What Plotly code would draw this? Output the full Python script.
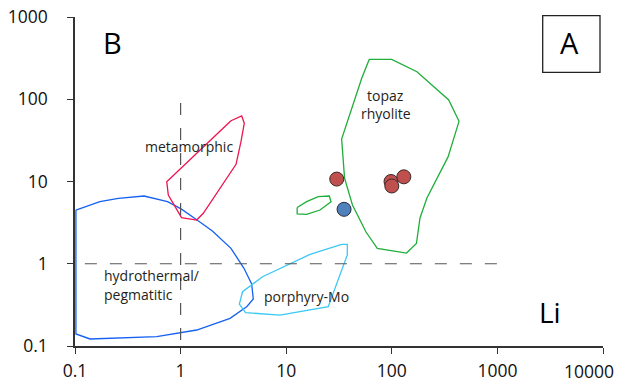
import numpy as np
import plotly.graph_objects as go

# ---- field outlines (x = Li, y = second element) ----
hydro_x = [0.102, 0.172, 0.257, 0.450, 0.752, 1.02, 1.42, 2.00, 3.00, 3.98, 4.71, 4.88, 4.25, 2.94, 1.42, 0.594, 0.139, 0.102]
hydro_y = [4.50, 5.68, 6.25, 6.66, 5.68, 4.61, 3.43, 2.50, 1.54, 0.880, 0.567, 0.373, 0.302, 0.217, 0.1565, 0.1297, 0.1217, 0.140]

meta_x = [3.00, 3.79, 4.01, 3.73, 3.35, 2.04, 1.64, 1.42, 1.02, 0.765, 0.739]
meta_y = [54.8, 62.6, 51.0, 30.5, 16.2, 6.25, 4.11, 3.40, 3.63, 6.85, 9.95]

porph_x = [33.5, 37.9, 37.9, 25.0, 8.74, 4.12, 3.60, 3.86, 5.97, 16.8]
porph_y = [1.72, 1.72, 1.28, 0.300, 0.238, 0.254, 0.324, 0.457, 0.696, 1.30]

topaz_small_x = [12.7, 12.7, 15.6, 20.9, 26.6, 25.6, 20.1, 15.6]
topaz_small_y = [4.83, 4.05, 3.99, 4.50, 5.68, 6.66, 6.53, 5.68]

topaz_x = [61.2, 99.8, 173, 346, 433, 341, 215, 185, 171, 138, 72.9, 57.0, 42.4, 35.7, 33.5, 51.9]
topaz_y = [306, 306, 216, 97.9, 53.9, 19.9, 6.30, 3.60, 1.76, 1.35, 1.54, 2.43, 5.18, 11.0, 32.9, 180]

# ---- samples ----
red_x = [30.1, 98.3, 130, 100]
red_y = [10.7, 10.0, 11.4, 8.82]
blue_x = [35.3]
blue_y = [4.59]

# ---- reference lines ----
vline_x = [1, 1]
vline_y = [0.118, 112]
hline_x = [0.124, 1000]
hline_y = [1, 1]

tick_vals_x = [0.1, 1, 10, 100, 1000, 10000]
tick_text_x = ["0.1", "1", "10", "100", "1000", "10000"]
tick_vals_y = [0.1, 1, 10, 100, 1000]
tick_text_y = ["0.1", "1", "10", "100", "1000"]

FONT = "Open Sans"
TXT = "#231f20"
TICK_SIZE = 17.5

fig = go.Figure()

def closed(xs, ys):
    return list(xs) + [xs[0]], list(ys) + [ys[0]]

for xs, ys, col in [
    (hydro_x, hydro_y, "#1561f2"),
    (meta_x, meta_y, "#ee1450"),
    (porph_x, porph_y, "#3cc8f5"),
    (topaz_small_x, topaz_small_y, "#1fae3a"),
    (topaz_x, topaz_y, "#1fae3a"),
]:
    cx, cy = closed(xs, ys)
    fig.add_trace(go.Scatter(x=cx, y=cy, mode="lines",
                             line=dict(color=col, width=1.3),
                             hoverinfo="skip", showlegend=False))

for xs, ys in [(vline_x, vline_y), (hline_x, hline_y)]:
    fig.add_trace(go.Scatter(x=xs, y=ys, mode="lines",
                             line=dict(color="#555555", width=1.2, dash="12px,13px"),
                             hoverinfo="skip", showlegend=False))

fig.add_trace(go.Scatter(x=red_x, y=red_y, mode="markers",
                         marker=dict(size=14, color="#c0504d", line=dict(color="#3a2a2a", width=1)),
                         showlegend=False))
fig.add_trace(go.Scatter(x=blue_x, y=blue_y, mode="markers",
                         marker=dict(size=14, color="#4f81bd", line=dict(color="#2a2a3a", width=1)),
                         showlegend=False))

def ann_data(x, y, text, size=14, xanchor="center"):
    fig.add_annotation(x=np.log10(x), y=np.log10(y), xref="x", yref="y", text=text,
                       showarrow=False, xanchor=xanchor, yanchor="middle",
                       font=dict(family=FONT, size=size, color=TXT))

ann_data(1.20, 27.0, "metamorphic")
ann_data(88.1, 112.6, "topaz")
ann_data(88.1, 66.2, "rhyolite")
ann_data(0.180, 0.716, "hydrothermal/", xanchor="left")
ann_data(0.180, 0.425, "pegmatitic", xanchor="left")
ann_data(5.94, 0.397, "porphyry-Mo", xanchor="left")

def ann_paper(px, py, text, size, color="#000000", xanchor="center"):
    fig.add_annotation(x=(px - 75) / 528, y=(346 - py) / 329, xref="paper", yref="paper",
                       text=text, showarrow=False, xanchor=xanchor, yanchor="middle",
                       font=dict(family=FONT, size=size, color=color))

ann_paper(112, 42.5, "B", 29)
ann_paper(569.3, 43, "A", 29)
ann_paper(550, 311.7, "Li", 28)
# last x tick label sits left of its tick so it stays inside the picture
ann_paper(616, 371, tick_text_x[-1], TICK_SIZE, color="#111111", xanchor="right")

fig.add_shape(type="rect", xref="paper", yref="paper",
              x0=(542.7 - 75) / 528, x1=(600 - 75) / 528,
              y0=(346 - 72.3) / 329, y1=(346 - 15.7) / 329,
              line=dict(color="#222222", width=1.3), fillcolor="rgba(0,0,0,0)")

axis_common = dict(type="log", showgrid=False, zeroline=False, showline=True,
                   linecolor="#333333", linewidth=1.5, ticks="outside", ticklen=6,
                   tickwidth=1.3, tickcolor="#333333", automargin=False,
                   ticklabeloverflow="allow",
                   tickfont=dict(family=FONT, size=TICK_SIZE, color="#111111"))

fig.update_xaxes(range=[-1, 4], tickvals=tick_vals_x,
                 ticktext=tick_text_x[:-1] + [""],
                 ticklabelstandoff=2, **axis_common)
fig.update_yaxes(range=[-1, 3], tickvals=tick_vals_y, ticktext=tick_text_y,
                 ticklabelstandoff=16, **axis_common)

fig.update_layout(width=622, height=386, margin=dict(l=75, r=19, t=17, b=40),
                  paper_bgcolor="white", plot_bgcolor="white", showlegend=False)

fig.write_html("out.html")
